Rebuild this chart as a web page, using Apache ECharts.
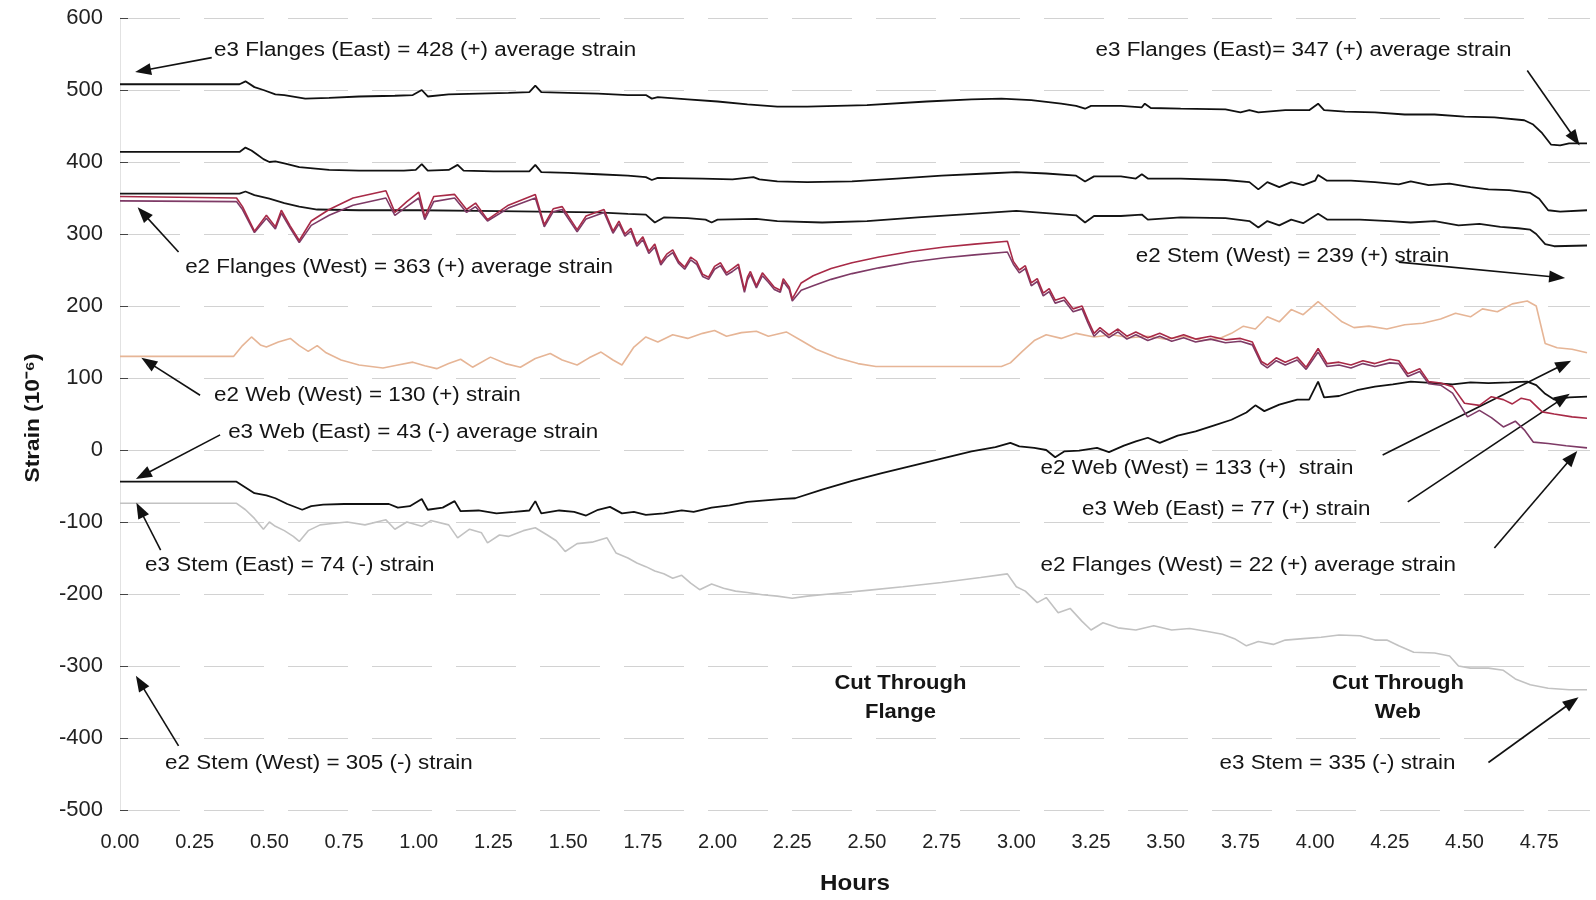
<!DOCTYPE html>
<html><head><meta charset="utf-8">
<script src="https://cdn.jsdelivr.net/npm/echarts@6/dist/echarts.min.js"></script>
<style>html,body{margin:0;padding:0;background:#fff}#c{width:1596px;height:900px}</style>
</head><body><div id="c"></div>
<script>
// ---------- DATA (hours, strain x10^-6) ----------
const e3FlangesTop = [[0,508],[0.40,508],[0.42,512],[0.45,504],[0.48,500],[0.52,494],[0.55,493],[0.62,488],[0.70,489],[0.80,491],[0.92,492],[0.98,493],[1.01,500],[1.03,491],[1.10,494],[1.20,495],[1.30,496],[1.37,497],[1.39,506],[1.41,497],[1.50,496],[1.60,495],[1.70,493],[1.76,493],[1.78,488],[1.80,490],[1.90,487],[2.00,484],[2.10,480],[2.20,477],[2.30,477],[2.50,479],[2.70,484],[2.85,487],[2.95,488],[3.05,486],[3.15,481],[3.20,478],[3.23,474],[3.25,478],[3.35,478],[3.42,476],[3.43,481],[3.45,475],[3.55,474],[3.70,473],[3.75,469],[3.78,472],[3.81,469],[3.90,472],[3.98,472],[4.01,481],[4.03,472],[4.10,470],[4.20,469],[4.30,466],[4.40,466],[4.50,463],[4.60,462],[4.70,458],[4.73,452],[4.76,440],[4.79,424],[4.82,423],[4.85,426],[4.91,426]];
const e3FlangesMid = [[0,414],[0.40,414],[0.42,420],[0.44,416],[0.46,410],[0.48,404],[0.50,400],[0.52,401],[0.55,398],[0.60,393],[0.70,389],[0.80,388],[0.95,388],[0.99,389],[1.01,397],[1.03,388],[1.10,389],[1.13,396],[1.15,388],[1.25,387],[1.37,387],[1.39,396],[1.41,386],[1.50,385],[1.60,383],[1.70,381],[1.76,379],[1.78,375],[1.80,378],[1.95,377],[2.05,376],[2.12,379],[2.14,376],[2.20,373],[2.30,372],[2.45,373],[2.60,377],[2.75,381],[2.90,384],[3.00,386],[3.10,384],[3.20,381],[3.23,373],[3.26,380],[3.35,380],[3.40,377],[3.42,383],[3.44,377],[3.55,377],[3.70,375],[3.78,372],[3.81,362],[3.84,372],[3.88,365],[3.92,372],[3.96,368],[4.00,374],[4.01,382],[4.04,374],[4.12,374],[4.20,372],[4.28,369],[4.32,373],[4.38,368],[4.45,370],[4.52,365],[4.58,362],[4.65,361],[4.72,357],[4.75,349],[4.78,333],[4.82,331],[4.91,333]];
const e2StemWestTop = [[0,356],[0.40,356],[0.42,359],[0.45,354],[0.50,349],[0.55,343],[0.60,338],[0.66,334],[0.80,333],[1.00,333],[1.20,332],[1.40,331],[1.60,330],[1.70,328],[1.76,327],[1.79,316],[1.82,323],[1.90,322],[1.96,320],[1.98,316],[2.00,320],[2.13,321],[2.20,318],[2.35,316],[2.50,318],[2.67,323],[2.85,328],[3.00,332],[3.10,329],[3.20,326],[3.23,316],[3.26,325],[3.35,325],[3.42,327],[3.44,320],[3.55,323],[3.70,322],[3.78,318],[3.81,309],[3.84,318],[3.88,312],[3.92,320],[3.96,315],[4.01,328],[4.04,320],[4.15,320],[4.25,318],[4.32,316],[4.40,318],[4.48,312],[4.55,314],[4.62,310],[4.68,308],[4.72,306],[4.74,300],[4.77,286],[4.80,283],[4.91,284]];
const e2FlangesA = [[0,352],[0.39,350],[0.41,338],[0.45,304],[0.49,326],[0.52,310],[0.54,333],[0.57,311],[0.60,291],[0.64,318],[0.70,334],[0.78,350],[0.89,360],[0.92,330],[0.96,345],[1.00,358],[1.02,324],[1.05,352],[1.12,355],[1.16,334],[1.19,343],[1.23,320],[1.30,340],[1.39,355],[1.42,313],[1.45,335],[1.48,338],[1.53,306],[1.56,325],[1.62,334],[1.65,304],[1.67,318],[1.69,300],[1.71,308],[1.73,286],[1.75,296],[1.77,276],[1.79,286],[1.81,260],[1.83,272],[1.85,278],[1.87,262],[1.89,254],[1.91,268],[1.93,262],[1.95,244],[1.97,240],[1.99,255],[2.01,260],[2.03,246],[2.05,252],[2.07,258],[2.09,222],[2.10,240],[2.11,248],[2.13,228],[2.15,246],[2.17,236],[2.19,226],[2.21,222],[2.22,238],[2.24,226],[2.25,210],[2.28,232],[2.32,242],[2.38,252],[2.45,260],[2.54,268],[2.65,276],[2.76,282],[2.86,286],[2.97,290],[2.99,262],[3.01,250],[3.03,256],[3.05,232],[3.07,238],[3.09,218],[3.11,224],[3.13,208],[3.16,212],[3.19,196],[3.22,200],[3.24,180],[3.26,162],[3.28,170],[3.31,160],[3.34,168],[3.37,158],[3.40,164],[3.44,156],[3.48,162],[3.52,155],[3.56,160],[3.60,154],[3.65,158],[3.70,153],[3.75,155],[3.79,150],[3.82,123],[3.84,118],[3.87,128],[3.90,122],[3.94,129],[3.97,115],[4.01,141],[4.04,120],[4.08,122],[4.12,118],[4.16,124],[4.20,120],[4.25,126],[4.28,124],[4.31,106],[4.35,113],[4.38,95],[4.42,93],[4.46,88],[4.50,65],[4.55,62],[4.59,74],[4.63,70],[4.66,64],[4.69,72],[4.72,69],[4.76,53],[4.80,50],[4.86,46],[4.91,44]];
const e2FlangesB = [[0,346],[0.39,345],[0.41,334],[0.45,302],[0.49,322],[0.52,307],[0.54,329],[0.57,308],[0.60,288],[0.64,312],[0.70,326],[0.78,340],[0.89,350],[0.92,326],[0.96,338],[1.00,350],[1.02,320],[1.05,345],[1.12,350],[1.16,330],[1.19,338],[1.23,318],[1.30,336],[1.39,350],[1.42,310],[1.45,331],[1.48,334],[1.53,303],[1.56,321],[1.62,330],[1.65,301],[1.67,314],[1.69,297],[1.71,304],[1.73,283],[1.75,292],[1.77,273],[1.79,282],[1.81,257],[1.83,268],[1.85,274],[1.87,259],[1.89,251],[1.91,264],[1.93,258],[1.95,241],[1.97,237],[1.99,251],[2.01,256],[2.03,243],[2.05,248],[2.07,254],[2.09,219],[2.10,236],[2.11,244],[2.13,225],[2.15,242],[2.17,233],[2.19,223],[2.21,219],[2.22,234],[2.24,223],[2.25,207],[2.28,222],[2.32,228],[2.38,237],[2.45,245],[2.54,253],[2.65,261],[2.76,267],[2.86,271],[2.97,275],[2.99,258],[3.01,246],[3.03,252],[3.05,228],[3.07,234],[3.09,214],[3.11,220],[3.13,204],[3.16,208],[3.19,192],[3.22,196],[3.24,176],[3.26,158],[3.28,166],[3.31,156],[3.34,164],[3.37,154],[3.40,160],[3.44,152],[3.48,158],[3.52,151],[3.56,156],[3.60,150],[3.65,154],[3.70,149],[3.75,151],[3.79,146],[3.82,120],[3.84,114],[3.87,124],[3.90,118],[3.94,125],[3.97,112],[4.01,136],[4.04,116],[4.08,118],[4.12,114],[4.16,120],[4.20,116],[4.25,121],[4.28,120],[4.31,102],[4.35,109],[4.38,92],[4.42,90],[4.46,79],[4.51,46],[4.55,55],[4.59,45],[4.63,32],[4.67,40],[4.70,28],[4.73,11],[4.78,9],[4.84,6],[4.91,3]];
const e2WebWest = [[0,130],[0.38,130],[0.41,145],[0.44,157],[0.47,146],[0.49,143],[0.53,150],[0.57,155],[0.60,145],[0.63,137],[0.66,145],[0.69,135],[0.74,125],[0.80,118],[0.88,114],[0.93,118],[0.98,122],[1.02,117],[1.06,113],[1.10,120],[1.14,126],[1.18,115],[1.24,129],[1.29,120],[1.34,115],[1.39,127],[1.44,134],[1.48,125],[1.53,118],[1.57,128],[1.61,136],[1.65,125],[1.68,118],[1.72,143],[1.76,157],[1.80,150],[1.85,160],[1.90,155],[1.95,162],[1.99,166],[2.03,158],[2.08,163],[2.13,165],[2.17,158],[2.23,164],[2.28,152],[2.33,140],[2.40,128],[2.47,120],[2.53,116],[2.70,116],[2.95,116],[2.98,121],[3.02,137],[3.06,152],[3.10,160],[3.15,155],[3.20,162],[3.26,157],[3.32,160],[3.38,156],[3.44,158],[3.50,154],[3.56,158],[3.62,152],[3.68,155],[3.72,162],[3.76,172],[3.80,168],[3.84,185],[3.88,178],[3.92,195],[3.96,188],[4.01,206],[4.05,192],[4.09,178],[4.13,170],[4.18,172],[4.24,168],[4.30,174],[4.36,176],[4.42,182],[4.47,190],[4.52,185],[4.56,196],[4.61,192],[4.66,203],[4.71,207],[4.74,200],[4.77,148],[4.81,142],[4.86,140],[4.91,135]];
const e3WebEast = [[0,-44],[0.39,-44],[0.42,-52],[0.45,-60],[0.49,-63],[0.52,-67],[0.56,-75],[0.61,-83],[0.64,-78],[0.68,-76],[0.75,-75],[0.90,-75],[0.93,-80],[0.97,-78],[1.01,-68],[1.03,-83],[1.08,-80],[1.12,-71],[1.14,-85],[1.20,-84],[1.26,-88],[1.32,-86],[1.37,-84],[1.39,-71],[1.41,-88],[1.47,-84],[1.52,-86],[1.56,-91],[1.60,-83],[1.64,-79],[1.68,-88],[1.72,-86],[1.76,-90],[1.82,-88],[1.88,-84],[1.92,-86],[1.98,-80],[2.04,-77],[2.10,-72],[2.16,-70],[2.22,-68],[2.26,-67],[2.35,-55],[2.45,-43],[2.55,-32],[2.65,-22],[2.75,-12],[2.85,-2],[2.93,4],[2.98,10],[3.01,5],[3.06,3],[3.10,0],[3.13,-10],[3.16,-2],[3.21,-1],[3.27,3],[3.31,-3],[3.36,6],[3.40,12],[3.44,17],[3.48,10],[3.54,20],[3.60,26],[3.66,34],[3.72,42],[3.77,52],[3.80,62],[3.83,54],[3.88,63],[3.94,70],[3.98,70],[4.01,95],[4.03,73],[4.08,75],[4.14,83],[4.20,88],[4.26,91],[4.32,95],[4.40,93],[4.46,91],[4.52,94],[4.58,93],[4.65,94],[4.71,95],[4.74,90],[4.77,78],[4.80,70],[4.85,73],[4.91,74]];
const e3Stem = [[0,-74],[0.39,-74],[0.42,-83],[0.45,-95],[0.48,-110],[0.50,-100],[0.52,-106],[0.55,-112],[0.58,-120],[0.60,-127],[0.63,-112],[0.67,-104],[0.71,-102],[0.76,-100],[0.82,-104],[0.89,-97],[0.92,-110],[0.96,-100],[1.01,-106],[1.04,-98],[1.10,-104],[1.13,-122],[1.17,-110],[1.21,-115],[1.23,-129],[1.27,-118],[1.30,-120],[1.35,-112],[1.39,-108],[1.43,-118],[1.46,-126],[1.49,-141],[1.53,-130],[1.58,-128],[1.63,-122],[1.66,-143],[1.70,-150],[1.73,-157],[1.76,-162],[1.79,-168],[1.82,-172],[1.85,-178],[1.88,-174],[1.91,-185],[1.94,-194],[1.98,-186],[2.02,-192],[2.06,-196],[2.10,-198],[2.15,-201],[2.20,-203],[2.25,-206],[2.30,-203],[2.40,-199],[2.50,-195],[2.62,-190],[2.75,-184],[2.88,-177],[2.97,-172],[3.00,-190],[3.03,-196],[3.07,-212],[3.10,-205],[3.14,-226],[3.18,-220],[3.22,-238],[3.25,-250],[3.29,-240],[3.34,-247],[3.40,-250],[3.46,-244],[3.52,-250],[3.58,-248],[3.64,-252],[3.69,-256],[3.73,-262],[3.77,-272],[3.81,-266],[3.86,-270],[3.90,-264],[3.96,-262],[4.02,-260],[4.08,-257],[4.15,-258],[4.20,-264],[4.24,-264],[4.28,-272],[4.33,-281],[4.40,-282],[4.45,-286],[4.48,-300],[4.52,-303],[4.58,-303],[4.63,-306],[4.67,-318],[4.72,-326],[4.78,-331],[4.85,-333],[4.91,-333]];

// ---------- ANNOTATIONS (in data coordinates) ----------
const noteTexts = [
  'e3 Flanges (East) = 428 (+) average strain',
  'e3 Flanges (East)= 347 (+) average strain',
  'e2 Flanges (West) = 363 (+) average strain',
  'e2 Stem (West) = 239 (+) strain',
  'e2 Web (West) = 130 (+) strain',
  'e3 Web (East) = 43 (-) average strain',
  'e3 Stem (East) = 74 (-) strain',
  'e2 Stem (West) = 305 (-) strain',
  'e2 Web (West) = 133 (+)  strain',
  'e3 Web (East) = 77 (+) strain',
  'e2 Flanges (West) = 22 (+) average strain',
  'e3 Stem = 335 (-) strain'
];
const noteAnchors = [[0.315,555],[3.265,555],[0.218,254],[3.40,269],[0.315,76],[0.362,24],[0.084,-160],[0.151,-435],[3.081,-25],[3.22,-82],[3.081,-160],[3.68,-435]];
const cutTexts = ['Cut Through\nFlange', 'Cut Through\nWeb'];
const cutAnchors = [[2.612,-344],[4.277,-344]];
const arrowTails = [[0.307,545],[4.71,527],[0.196,275],[4.28,261],[0.268,76],[0.335,21],[0.136,-139],[0.196,-411],[4.226,-7],[4.31,-72],[4.60,-136],[4.58,-434]];
const arrowHeads = [[0.077,527],[4.87,432],[0.077,329],[4.81,240],[0.094,122],[0.077,-35],[0.067,-83],[0.067,-323],[4.833,119],[4.83,72],[4.86,-10],[4.86,-350]];

const FONT = '"Liberation Sans", Arial, sans-serif';

function line(data, color, width, z) {
  return { type: 'line', data: data, showSymbol: false, symbol: 'none', animation: false,
    lineStyle: { color: color, width: width }, z: z, silent: true };
}

const series = [
  line(e3Stem, '#c2c2c2', 1.6, 2),
  line(e2WebWest, '#e6b596', 1.6, 3),
  line(e3FlangesTop, '#111', 1.8, 4),
  line(e3FlangesMid, '#111', 1.8, 4),
  line(e2StemWestTop, '#161616', 1.8, 4),
  line(e3WebEast, '#111', 1.8, 4),
  line(e2FlangesB, '#7e3a66', 1.6, 5),
  line(e2FlangesA, '#a82a47', 1.6, 6),
  { type: 'line', data: [], animation: false, silent: true, z: 8,
    markLine: { silent: true, animation: false, symbol: ['none', 'triangle'], symbolSize: [12, 16],
      label: { show: false },
      lineStyle: { color: '#111', width: 1.6, type: 'solid' },
      data: arrowTails.map((t, i) => [{ coord: t }, { coord: arrowHeads[i] }]) } }
];

const option = {
  backgroundColor: '#ffffff',
  animation: false,
  grid: { left: 120, right: 6, top: 18, bottom: 90, containLabel: false },
  xAxis: {
    type: 'value', min: 0, max: 4.92, interval: 0.25,
    axisLine: { show: false }, axisTick: { show: false }, splitLine: { show: false },
    axisLabel: { color: '#222', fontSize: 20, fontFamily: FONT, margin: 22, showMaxLabel: false,
      formatter: v => v.toFixed(2) }
  },
  yAxis: {
    type: 'value', min: -500, max: 600, interval: 100,
    axisLine: { show: true, lineStyle: { color: '#e2e2e2' } },
    axisTick: { show: true, inside: true, length: 8, lineStyle: { color: '#444' } },
    splitLine: { show: true, lineStyle: { color: '#d2d2d2', width: 1.2, type: [60, 24] } },
    axisLabel: { color: '#222', fontSize: 22, fontFamily: FONT, margin: 17 }
  },
  series: series
};

const chart = echarts.init(document.getElementById('c'), null, { renderer: 'canvas' });
chart.setOption(option);

const graphics = [];
noteTexts.forEach((t, i) => {
  const p = chart.convertToPixel({ gridIndex: 0 }, noteAnchors[i]);
  graphics.push({ type: 'text', x: p[0], y: p[1], scaleX: 1.12, z: 20,
    style: { text: t, fill: '#151515', fontSize: 20, fontFamily: FONT,
      align: 'left', verticalAlign: 'middle', textAlign: 'left', textVerticalAlign: 'middle' } });
});
cutTexts.forEach((t, i) => {
  const p = chart.convertToPixel({ gridIndex: 0 }, cutAnchors[i]);
  graphics.push({ type: 'text', x: p[0], y: p[1], scaleX: 1.1, z: 20,
    style: { text: t, fill: '#151515', fontSize: 20, fontWeight: 'bold', fontFamily: FONT, lineHeight: 29,
      align: 'center', verticalAlign: 'middle', textAlign: 'center', textVerticalAlign: 'middle' } });
});
graphics.push({ type: 'text', x: 855, y: 884, scaleX: 1.1, z: 20,
  style: { text: 'Hours', fill: '#151515', fontSize: 22, fontWeight: 'bold', fontFamily: FONT,
    align: 'center', verticalAlign: 'middle', textAlign: 'center', textVerticalAlign: 'middle' } });
graphics.push({ type: 'text', x: 33, y: 418, rotation: Math.PI / 2, scaleX: 1.08, z: 20,
  style: { text: 'Strain (10⁻⁶)', fill: '#151515', fontSize: 21, fontWeight: 'bold', fontFamily: FONT,
    align: 'center', verticalAlign: 'middle', textAlign: 'center', textVerticalAlign: 'middle' } });
chart.setOption({ graphic: graphics });
</script></body></html>
